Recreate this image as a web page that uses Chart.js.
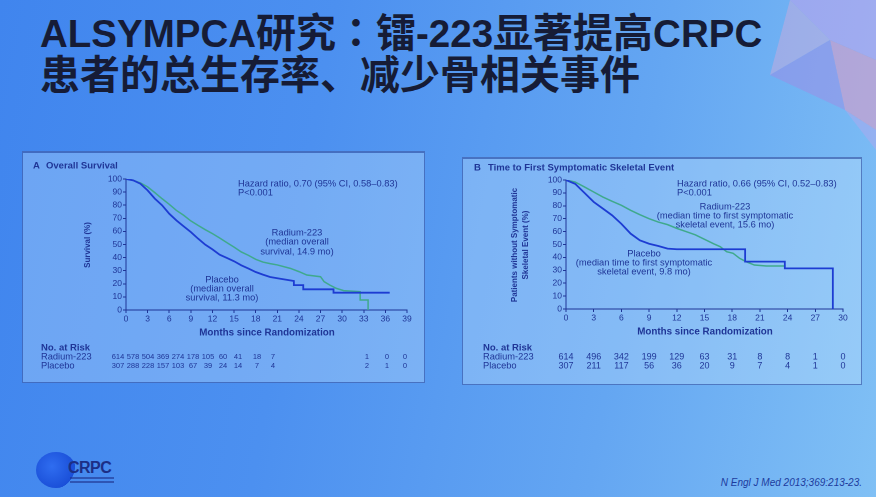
<!DOCTYPE html>
<html>
<head>
<meta charset="utf-8">
<script src="https://cdn.jsdelivr.net/npm/chart.js@4.4.1/dist/chart.umd.min.js"></script>
<style>
  html, body { margin: 0; padding: 0; }
  body {
    width: 876px; height: 497px; overflow: hidden; position: relative;
    background: linear-gradient(100deg, #4085ee 0%, #4c90f0 35%, #64a6f2 70%, #80c0f5 100%);
    font-family: "Liberation Sans", Arial, sans-serif;
  }
  .title {
    position: absolute; left: 40px; top: 11px;
    font-family: "Noto Sans CJK SC", sans-serif; font-weight: 700;
    font-size: 40px; line-height: 39px; color: #161c36; white-space: nowrap;
  }
  .title .lat { font-family: "Liberation Sans", Arial, sans-serif; font-size: 38.5px; }
  .title .col { font-family: "Noto Sans CJK TC", sans-serif; }
  .panel {
    position: absolute; background: rgba(210, 235, 255, 0.30);
    border: 1px solid rgba(30, 60, 150, 0.55); border-top-width: 2px;
  }
  .box { position: absolute; }
  .ref {
    position: absolute; right: 14px; top: 477px; font-size: 10px;
    font-style: italic; color: #1d3c9e;
  }
  .logo { position: absolute; left: 36px; top: 452px; width: 40px; height: 36px;
    border-radius: 50%; background: radial-gradient(circle at 40% 40%, #2f6df0, #1a4fd8 70%, rgba(26,79,216,0) 72%); }
  .logotext { position: absolute; left: 68px; top: 459px; font-size: 16px; font-weight: 700;
    color: #1c2f86; letter-spacing: -0.5px; }
  .logobar { position: absolute; left: 70px; height: 1.5px; background: rgba(30,50,140,0.6); }
</style>
</head>
<body>
<svg style="position:absolute;left:0;top:0" width="876" height="160">
  <polygon points="790,0 876,0 876,60 830,40" fill="rgba(200,160,235,0.5)"/>
  <polygon points="830,40 876,60 876,130 845,110" fill="rgba(235,150,190,0.5)"/>
  <polygon points="790,0 830,40 770,75" fill="rgba(225,170,215,0.4)"/>
  <polygon points="770,75 830,40 845,110" fill="rgba(170,130,225,0.4)"/>
  <polygon points="845,110 876,130 876,150" fill="rgba(200,160,235,0.35)"/>
</svg>
<div class="title"><span class="lat">ALSYMPCA</span>研究<span class="col">：</span>镭<span class="lat">-223</span>显著提高<span class="lat">CRPC</span><br>患者的总生存率、减少骨相关事件</div>

<div class="panel" style="left:22px;top:151px;width:401px;height:229px"></div>
<div class="panel" style="left:462px;top:157px;width:398px;height:225px"></div>
<div class="box" style="left:22px;top:151px;width:401px;height:229px"><canvas id="chartA"></canvas></div>
<div class="box" style="left:462px;top:157px;width:398px;height:225px"><canvas id="chartB"></canvas></div>

<div class="logo"></div>
<div class="logotext">CRPC</div>
<div class="logobar" style="top:477px;width:44px"></div>
<div class="logobar" style="top:481px;width:44px"></div>
<div class="ref">N Engl J Med 2013;369:213-23.</div>

<script>
// A: overall survival (%)
const monthsA_placebo = [0,1,2,3,4,5,6,7,8,9,10,11,12,13,14,15,16,17,18,19,20,21,23.3,23.3,24.6,24.6,28.8,28.8,36.6];
const survA_placebo = [100,99,96.4,91.3,85,80,73.5,68.4,63.9,59.5,54.5,49.9,46.3,42.2,39.7,37.2,34.1,31.6,29,27,25.2,24.2,22.1,19,19,15.8,15.8,13.2,13.2];
const monthsA_radium = [0,1,2,3,4,5,6,7,8,9,10,11,12,13,14,15,16,17,18,19,20,21,22.8,24,25.1,27,27.5,28.3,29.2,30.2,32.5,32.5,33.6,33.6];
const survA_radium = [100,99,97,94,89.6,85,80.7,76,72.3,68,64.6,61.3,58.3,55,51.4,48,44.3,41.7,38.7,36.6,35.4,34.4,31.8,29.3,26.7,25.4,21.6,19,16.5,14.8,14,7.6,7.6,0];
const riskA_radium = [614,578,504,369,274,178,105,60,41,18,7,1,0,0];
const riskA_placebo = [307,288,228,157,103,67,39,24,14,7,4,2,1,0];

// B: time to first symptomatic skeletal event (%)
const monthsB_placebo = [0,1,2,3,4,5,6,7,8,9,10,11,12,19.4,19.4,23.7,23.7,28.9,28.9];
const survB_placebo = [100,97,90,83,77.8,72.6,66,58.4,53.2,50.6,48.8,46.8,46.3,46.3,36.7,36.7,31.5,31.5,0];
const monthsB_radium = [0,1,2,3,4,5,6,7,8,9,10,11,12,13,14,15,16,16.7,17.4,18.1,18.8,19.5,20.4,21.7,23.7];
const survB_radium = [100,98.4,94.6,90.7,86.8,83.5,80.4,76.5,73.1,70,67.4,65.4,62.5,60,57.5,54,50.5,48.3,44.4,43.2,39.3,36.7,34.1,33.3,33.3];
const riskMonthsB = [0,3,6,9,12,15,18,21,24,27,30];
const riskB_radium = [614,496,342,199,129,63,31,8,8,1,0];
const riskB_placebo = [307,211,117,56,36,20,9,7,4,1,0];

const yTicks = [0,10,20,30,40,50,60,70,80,90,100];

const TXT = '#1f3596';
const BLUE = '#1d3cd2';
const GREEN = '#3fa98c';
const F = 'Liberation Sans, Arial, sans-serif';

// column positions of the at-risk numbers in panel A (canvas px)
const riskXA = [96,111,126,141,156,171,186,201,216,235,251,345,365,383];

function pts(xs, ys) { return xs.map((x, i) => ({ x: x, y: ys[i] })); }

const panelText = {
  id: 'panelText',
  afterDraw(chart, args, opts) {
    const ctx = chart.ctx;
    ctx.save();
    ctx.fillStyle = TXT;
    ctx.textBaseline = 'middle';
    opts.items.forEach(it => {
      ctx.font = it.font;
      ctx.textAlign = it.align || 'left';
      if (it.rot) {
        ctx.save(); ctx.translate(it.x, it.y); ctx.rotate(-Math.PI / 2);
        ctx.fillText(it.text, 0, 0); ctx.restore();
      } else {
        ctx.fillText(it.text, it.x, it.y);
      }
    });
    ctx.font = opts.riskFont;
    ctx.textAlign = 'center';
    const xs = chart.scales.x;
    opts.risk.forEach(row => {
      row.values.forEach((v, i) => {
        const x = row.xPix ? row.xPix[i] : xs.getPixelForValue(row.months[i]);
        ctx.fillText(String(v), x, row.y);
      });
    });
    ctx.restore();
  }
};

function makeChart(id, sets, xMax, pad, items, risk, riskFont) {
  return new Chart(document.getElementById(id), {
    type: 'line',
    data: {
      datasets: [
        { label: 'Placebo', data: pts(sets[0], sets[1]), borderColor: BLUE, borderWidth: 1.8 },
        { label: 'Radium-223', data: pts(sets[2], sets[3]), borderColor: GREEN, borderWidth: 1.5 }
      ]
    },
    options: {
      responsive: true,
      maintainAspectRatio: false,
      animation: false,
      devicePixelRatio: 2,
      layout: { padding: pad },
      elements: { point: { radius: 0 }, line: { tension: 0 } },
      plugins: { legend: { display: false }, tooltip: { enabled: false },
        panelText: { items: items, risk: risk, riskFont: riskFont } },
      scales: {
        x: {
          type: 'linear', min: 0, max: xMax,
          border: { color: TXT, width: 1 },
          grid: { drawOnChartArea: false, drawTicks: true, tickLength: 3, color: TXT },
          ticks: { stepSize: 3, autoSkip: false, color: TXT, font: { size: 8.5, family: F }, padding: 1, maxRotation: 0 },
          afterFit(s) { s.height = 14; s.paddingLeft = 0; s.paddingRight = 0; }
        },
        y: {
          min: 0, max: 100,
          border: { color: TXT, width: 1 },
          grid: { drawOnChartArea: false, drawTicks: true, tickLength: 3, color: TXT },
          afterBuildTicks(s) { s.ticks = yTicks.map(v => ({ value: v })); },
          ticks: { autoSkip: false, color: TXT, font: { size: 8.5, family: F }, padding: 1 },
          afterFit(s) { s.width = 24; s.paddingTop = 0; s.paddingBottom = 0; }
        }
      }
    },
    plugins: [panelText]
  });
}

const B9 = 'bold 9.5px ' + F;
const N9 = '9.3px ' + F;
const AX = 'bold 8px ' + F;
const MO = 'bold 9.8px ' + F;

makeChart('chartA', [monthsA_placebo, survA_placebo, monthsA_radium, survA_radium], 39,
  { left: 80, right: 16, top: 28, bottom: 56 },
  [
    { text: 'A', x: 11, y: 15, font: B9 },
    { text: 'Overall Survival', x: 24, y: 15, font: B9 },
    { text: 'Survival (%)', x: 66, y: 94, font: AX, align: 'center', rot: true },
    { text: 'Hazard ratio, 0.70 (95% CI, 0.58\u20130.83)', x: 216, y: 33, font: N9 },
    { text: 'P<0.001', x: 216, y: 42, font: N9 },
    { text: 'Radium-223', x: 275, y: 82, font: N9, align: 'center' },
    { text: '(median overall', x: 275, y: 91, font: N9, align: 'center' },
    { text: 'survival, 14.9 mo)', x: 275, y: 101, font: N9, align: 'center' },
    { text: 'Placebo', x: 200, y: 129, font: N9, align: 'center' },
    { text: '(median overall', x: 200, y: 138, font: N9, align: 'center' },
    { text: 'survival, 11.3 mo)', x: 200, y: 147, font: N9, align: 'center' },
    { text: 'Months since Randomization', x: 245, y: 182, font: MO, align: 'center' },
    { text: 'No. at Risk', x: 19, y: 197, font: B9 },
    { text: 'Radium-223', x: 19, y: 206, font: N9 },
    { text: 'Placebo', x: 19, y: 215, font: N9 }
  ],
  [
    { values: riskA_radium, xPix: riskXA, y: 206 },
    { values: riskA_placebo, xPix: riskXA, y: 215 }
  ], '7.5px ' + F);

makeChart('chartB', [monthsB_placebo, survB_placebo, monthsB_radium, survB_radium], 30,
  { left: 80, right: 17, top: 23, bottom: 59 },
  [
    { text: 'B', x: 12, y: 11, font: B9 },
    { text: 'Time to First Symptomatic Skeletal Event', x: 26, y: 11, font: B9 },
    { text: 'Patients without Symptomatic', x: 53, y: 88, font: AX, align: 'center', rot: true },
    { text: 'Skeletal Event (%)', x: 64, y: 88, font: AX, align: 'center', rot: true },
    { text: 'Hazard ratio, 0.66 (95% CI, 0.52\u20130.83)', x: 215, y: 27, font: N9 },
    { text: 'P<0.001', x: 215, y: 36, font: N9 },
    { text: 'Radium-223', x: 263, y: 50, font: N9, align: 'center' },
    { text: '(median time to first symptomatic', x: 263, y: 59, font: N9, align: 'center' },
    { text: 'skeletal event, 15.6 mo)', x: 263, y: 68, font: N9, align: 'center' },
    { text: 'Placebo', x: 182, y: 97, font: N9, align: 'center' },
    { text: '(median time to first symptomatic', x: 182, y: 106, font: N9, align: 'center' },
    { text: 'skeletal event, 9.8 mo)', x: 182, y: 115, font: N9, align: 'center' },
    { text: 'Months since Randomization', x: 243, y: 175, font: MO, align: 'center' },
    { text: 'No. at Risk', x: 21, y: 191, font: B9 },
    { text: 'Radium-223', x: 21, y: 200, font: N9 },
    { text: 'Placebo', x: 21, y: 209, font: N9 }
  ],
  [
    { values: riskB_radium, months: riskMonthsB, y: 200 },
    { values: riskB_placebo, months: riskMonthsB, y: 209 }
  ], '9px ' + F);
</script>
</body>
</html>
